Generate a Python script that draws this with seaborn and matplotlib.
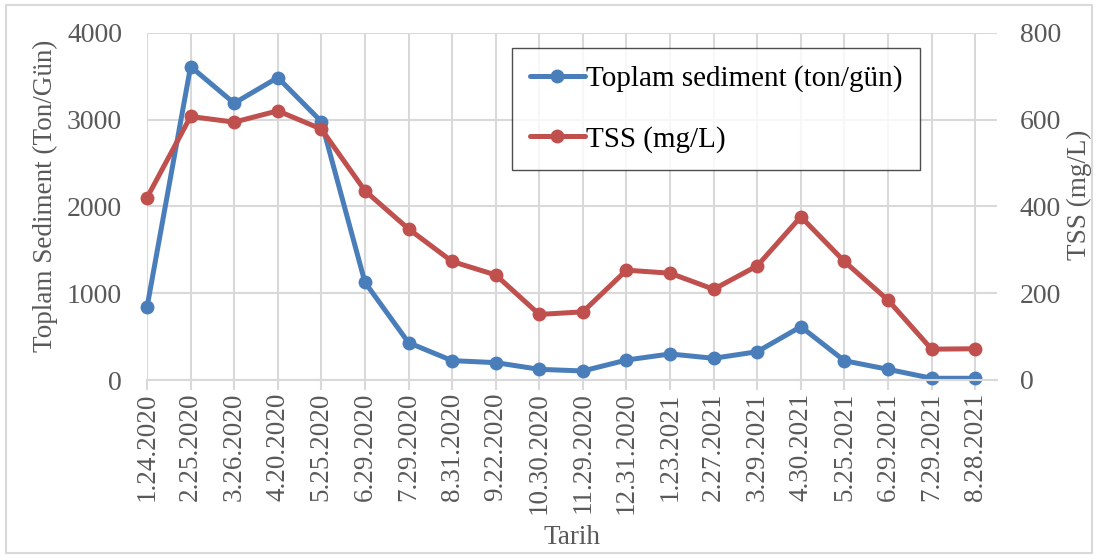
import numpy as np
import pandas as pd
import matplotlib
matplotlib.use("Agg")
import matplotlib.pyplot as plt
import seaborn as sns

dates = ["1.24.2020", "2.25.2020", "3.26.2020", "4.20.2020", "5.25.2020", "6.29.2020",
         "7.29.2020", "8.31.2020", "9.22.2020", "10.30.2020", "11.29.2020", "12.31.2020",
         "1.23.2021", "2.27.2021", "3.29.2021", "4.30.2021", "5.25.2021", "6.29.2021",
         "7.29.2021", "8.28.2021"]
sediment = [837, 3610, 3188, 3483, 2976, 1125, 430, 223, 200, 123, 104, 230,
            300, 250, 326, 614, 222, 123, 20, 20]
tss = [420, 607, 594, 620, 578, 436, 348, 273, 242, 151, 157, 253,
       246, 209, 263, 376, 273, 184, 71, 72]

sns.set_style("white")
plt.rcParams['font.family'] = ['Liberation Serif', 'DejaVu Serif']

df = pd.DataFrame({"pos": np.arange(len(dates)), "sed": sediment, "tss": tss})

blue = "#4A7EBB"
red = "#C0504D"
grid_c = "#D9D9D9"
txt_c = "#595959"

fig = plt.figure(figsize=(10.98, 5.56), dpi=100)
ax = fig.add_axes([147/1098, 1-380/556, (997-147)/1098, (380-32.7)/556])
ax2 = ax.twinx()

sns.lineplot(data=df, x="pos", y="sed", ax=ax, color=blue, lw=3.6, marker="o",
             markersize=10, markeredgewidth=0, label="Toplam sediment (ton/gün)", legend=False)
sns.lineplot(data=df, x="pos", y="tss", ax=ax2, color=red, lw=3.6, marker="o",
             markersize=10, markeredgewidth=0, label="TSS (mg/L)", legend=False)
for a in (ax, ax2):
    for ln in a.get_lines():
        ln.set_clip_on(False)

ax.set_xlim(0, 19.5)
ax.set_ylim(0, 4000)
ax2.set_ylim(0, 800)
ax.set_yticks([0, 1000, 2000, 3000, 4000])
ax2.set_yticks([0, 200, 400, 600, 800])
ax.set_xticks(df["pos"])
ax.set_xticklabels(dates, rotation=90)

ax.grid(True, color=grid_c, lw=1.5)
ax.set_axisbelow(True)
for a in (ax, ax2):
    for s in a.spines.values():
        s.set_visible(False)
ax.spines['bottom'].set_visible(True)
ax.spines['bottom'].set_color(grid_c)
ax.spines['bottom'].set_linewidth(1.5)

ax.tick_params(axis='x', colors=txt_c, labelsize=19.5, length=7, width=1.5, color=grid_c, pad=2,
               bottom=True)
ax.tick_params(axis='y', colors=txt_c, labelsize=20, length=0, pad=18)
ax2.tick_params(axis='y', colors=txt_c, labelsize=20, length=0, pad=16.5)

ax.set_xlabel("Tarih", fontsize=19.5, color=txt_c, va="center")
ax.xaxis.set_label_coords(0.5, (380-538)/347.3)
ax.set_ylabel("Toplam Sediment (Ton/Gün)", fontsize=19.5, color=txt_c, va="center", ha="center")
ax.yaxis.set_label_coords((45-147)/850, (380-196)/347.3)
ax2.set_ylabel("TSS (mg/L)", fontsize=19.5, color=txt_c, rotation=90, va="center", ha="center")
ax2.yaxis.set_label_coords((1079-147)/850, (380-195)/347.3)

h1, l1 = ax.get_legend_handles_labels()
h2, l2 = ax2.get_legend_handles_labels()
leg = ax2.legend(h1 + h2, l1 + l2, loc="upper left",
                 bbox_to_anchor=((512-147)/850, 1-(48-32.7)/347.3),
                 fontsize=21, frameon=True, fancybox=False, handlelength=1.9,
                 handletextpad=0.05, labelspacing=1.15, borderpad=0.6, borderaxespad=0)
leg.get_frame().set_edgecolor("#222222")
leg.get_frame().set_linewidth(1.0)
for t in leg.get_texts():
    t.set_color("black")

fig.patches.append(plt.Rectangle((6/1098, 3/556), 1-12/1098, 1-8/556, transform=fig.transFigure,
                                 fill=False, edgecolor="#D9D9D9", lw=1.5))

fig.savefig("out.png", dpi=100)
